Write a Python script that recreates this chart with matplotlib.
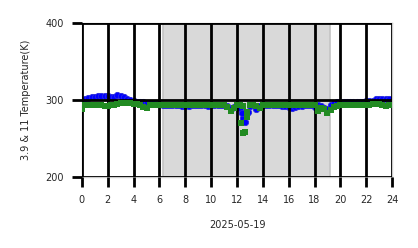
import numpy as np
import matplotlib
matplotlib.use('Agg')
import matplotlib.pyplot as plt

# hours of the day, every 15 min
hours = np.arange(0, 24, 0.25)

# 3.9 um brightness temperature (K)
bt39 = [299, 302, 303, 304, 304, 305, 305, 305, 305, 304, 304, 306,
        305, 304, 302, 300, 299, 298, 297, 297, 296, 296, 296, 295,
        295, 294, 294, 293, 293, 293, 293, 292, 292, 292, 293, 293,
        293, 293, 293, 292, 293, 293, 293, 293, 293, 292, 289, 291,
        294, 290, 277, 283, 292, 293, 288, 292, 293, 293, 293, 293,
        293, 293, 292, 292, 291, 290, 291, 292, 292, 293, 293, 293,
        291, 293, 292, 290, 289, 293, 296, 297, 298, 298, 298, 298,
        298, 298, 298, 298, 299, 299, 299, 301, 301, 302, 301, 302]

# 11 um brightness temperature (K)
bt11 = [289, 293, 294, 294, 294, 293, 293, 292, 292, 293, 294, 295,
        296, 296, 296, 296, 295, 295, 293, 291, 290, 293, 293, 294,
        294, 294, 293, 293, 294, 294, 293, 293, 293, 293, 294, 293,
        293, 294, 293, 293, 294, 294, 294, 294, 293, 291, 286, 290,
        294, 293, 292, 285, 293, 294, 292, 290, 293, 293, 294, 293,
        293, 293, 293, 293, 293, 294, 293, 293, 293, 294, 294, 293,
        293, 286, 290, 289, 283, 287, 291, 292, 293, 293, 293, 293,
        293, 293, 293, 293, 293, 294, 295, 295, 295, 294, 292, 294]

# cloudy / noisy samples around noon
extra_h39 = [12.36, 12.62, 12.82]
extra_bt39 = [283, 272, 284]
extra_h11 = [12.28, 12.44, 12.62, 12.75]
extra_bt11 = [270, 257, 259, 278]

# daytime (sunrise / sunset)
day_start = 6.25
day_end = 19.2

fig = plt.figure(figsize=(4.18, 2.48), dpi=100)
ax = fig.add_axes([0.196, 0.286, 0.742, 0.621])

ax.axvspan(day_start, day_end, facecolor='#d9d9d9', edgecolor='#c4c4c4', lw=1.2, zorder=0)

ax.plot(hours, bt39, 'o', color='blue', ms=4.5, mew=0.6, mec='#2a2ae0', zorder=2)
ax.plot(extra_h39, extra_bt39, 'o', color='blue', ms=4.5, mew=0.6, mec='#2a2ae0', zorder=2)
ax.plot(hours, bt11, 's', color='forestgreen', ms=3.8, mew=0, zorder=3)
ax.plot(extra_h11, extra_bt11, 's', color='forestgreen', ms=3.8, mew=0, zorder=3)

ax.set_xlim(0, 24)
ax.set_ylim(200, 400)
ax.set_xticks(range(0, 25, 2))
ax.set_yticks([200, 300, 400])
ax.grid(True, color='black', lw=2)
ax.set_axisbelow(False)
for s in ax.spines.values():
    s.set_color('#cccccc')
    s.set_linewidth(1)

ax.tick_params(direction='out', length=7, width=2, color='black',
               labelsize=7, labelcolor='#262626', pad=6)
ax.set_xlabel('2025-05-19', fontsize=7, color='#262626', labelpad=11)
ax.set_ylabel('3.9 & 11 Temperature(K)', fontsize=7, color='#262626', labelpad=10)

fig.savefig('out.png', dpi=100)
